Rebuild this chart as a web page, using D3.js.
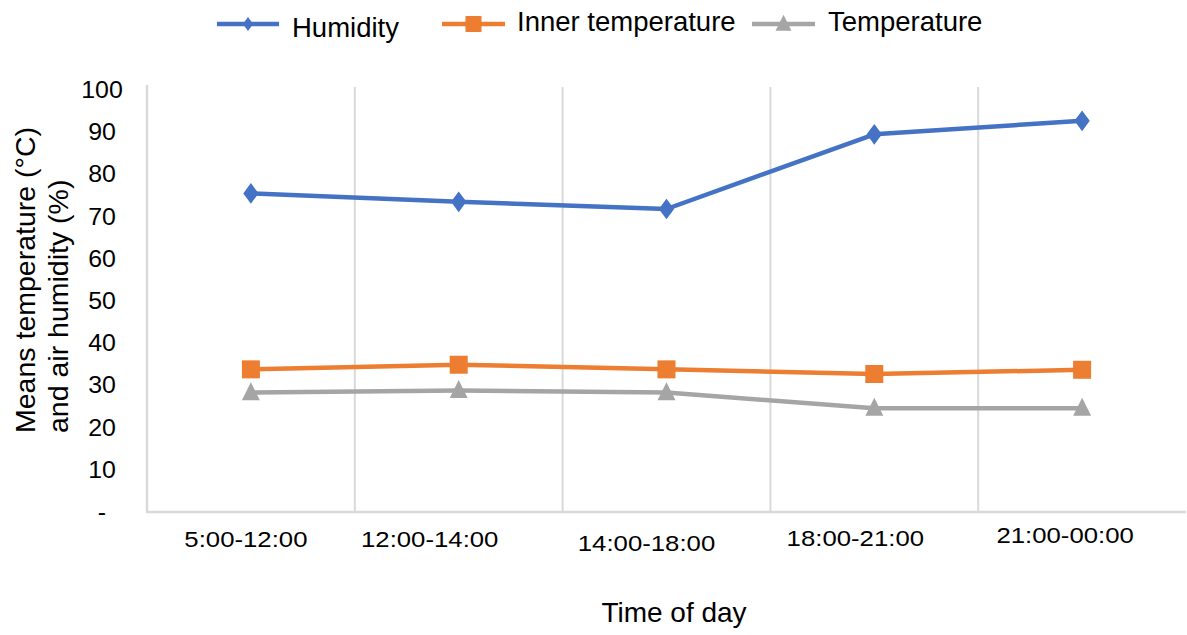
<!DOCTYPE html>
<html>
<head>
<meta charset="utf-8">
<script src="https://cdn.jsdelivr.net/npm/d3@7"></script>
<style>
  html, body { margin: 0; padding: 0; background: #fff; }
  svg { display: block; font-family: "Liberation Sans", Arial, sans-serif; }
</style>
</head>
<body>
<svg id="chart" width="1187" height="635"></svg>
<script>
// Time slots along the x axis
const categories = ["5:00-12:00", "12:00-14:00", "14:00-18:00", "18:00-21:00", "21:00-00:00"];

// Mean values per time slot
const humidity = [75.5, 73.5, 71.8, 89.5, 92.7];
const innerTemperature = [33.8, 34.9, 33.8, 32.7, 33.7];
const temperature = [28.3, 28.8, 28.3, 24.6, 24.6];

// Y axis tick values and their labels
const yTickValues = [0, 10, 20, 30, 40, 50, 60, 70, 80, 90, 100];
const yTickLabels = ["-", "10", "20", "30", "40", "50", "60", "70", "80", "90", "100"];

// Hand placement of the category labels (horizontal shift, baseline below axis)
const xLabelShift = [-5, -29, -20, -19, -17];
const xLabelBaseline = [35, 35, 39, 34, 31];

const series = [
  { name: "Humidity", values: humidity, color: "#4472C4", marker: "diamond" },
  { name: "Inner temperature", values: innerTemperature, color: "#ED7D31", marker: "square" },
  { name: "Temperature", values: temperature, color: "#A5A5A5", marker: "triangle" }
];

const svg = d3.select("#chart");
const plot = { left: 147, right: 1186, top: 87, bottom: 512 };

const x = d3.scaleBand().domain(categories).range([plot.left, plot.right]);
const y = d3.scaleLinear().domain([0, 100]).range([plot.bottom, 90]);

// Vertical gridlines between the time slots
svg.append("g")
  .selectAll("line")
  .data(categories.slice(1))
  .join("line")
  .attr("x1", d => x(d)).attr("x2", d => x(d))
  .attr("y1", plot.top).attr("y2", plot.bottom)
  .attr("stroke", "#d9d9d9").attr("stroke-width", 2);

// Axis lines
svg.append("line")
  .attr("x1", plot.left).attr("x2", plot.left)
  .attr("y1", 85).attr("y2", plot.bottom)
  .attr("stroke", "#d9d9d9").attr("stroke-width", 2.5);
svg.append("line")
  .attr("x1", plot.left - 1).attr("x2", plot.right)
  .attr("y1", plot.bottom).attr("y2", plot.bottom)
  .attr("stroke", "#d9d9d9").attr("stroke-width", 2.5);

// Y axis labels
const yAxis = svg.append("g")
  .attr("transform", "translate(102,0)")
  .call(d3.axisLeft(y).tickValues(yTickValues).tickSize(0).tickPadding(0)
    .tickFormat((d, i) => yTickLabels[i]));
yAxis.select(".domain").remove();
yAxis.selectAll("text")
  .attr("text-anchor", "middle")
  .attr("font-size", 23.5)
  .attr("font-family", "'Liberation Sans', Arial, sans-serif")
  .attr("fill", "#000")
  .attr("transform", "scale(1.06,1)");

// X axis labels (slightly widened glyphs)
const xStretch = 1.12;
const xAxis = svg.append("g")
  .attr("transform", `translate(0,${plot.bottom})`)
  .call(d3.axisBottom(x).tickSize(0));
xAxis.select(".domain").remove();
xAxis.selectAll("text")
  .attr("font-size", 23)
  .attr("font-family", "'Liberation Sans', Arial, sans-serif")
  .attr("fill", "#000")
  .attr("dy", 0)
  .attr("transform", `scale(${xStretch},1)`)
  .attr("x", (d, i) => xLabelShift[i] / xStretch)
  .attr("y", (d, i) => xLabelBaseline[i]);

// Marker shapes
function drawMarker(g, type, cx, cy, color, s) {
  if (type === "diamond") {
    g.append("path")
      .attr("d", `M${cx},${cy - s * 1.15}L${cx + s * 0.85},${cy}L${cx},${cy + s * 1.15}L${cx - s * 0.85},${cy}Z`)
      .attr("fill", color);
  } else if (type === "square") {
    g.append("rect")
      .attr("x", cx - s).attr("y", cy - s)
      .attr("width", 2 * s).attr("height", 2 * s)
      .attr("fill", color);
  } else {
    g.append("path")
      .attr("d", `M${cx},${cy - s * 1.15}L${cx + s},${cy + s * 0.85}L${cx - s},${cy + s * 0.85}Z`)
      .attr("fill", color);
  }
}

const line = d3.line()
  .x((d, i) => x(categories[i]) + x.bandwidth() / 2)
  .y(d => y(d));

series.forEach(s => {
  const g = svg.append("g");
  g.append("path")
    .datum(s.values)
    .attr("d", line)
    .attr("fill", "none")
    .attr("stroke", s.color)
    .attr("stroke-width", 4.5)
    .attr("stroke-linejoin", "round");
  s.values.forEach((v, i) => {
    drawMarker(g, s.marker, x(categories[i]) + x.bandwidth() / 2, y(v), s.color, 9);
  });
});

// Legend
const legendItems = [
  { lineX: [217, 279], textX: 292, baseline: 37 },
  { lineX: [442, 505], textX: 517, baseline: 31 },
  { lineX: [752, 815], textX: 828, baseline: 31 }
];
series.forEach((s, i) => {
  const L = legendItems[i];
  const g = svg.append("g");
  g.append("line")
    .attr("x1", L.lineX[0]).attr("x2", L.lineX[1])
    .attr("y1", 24).attr("y2", 24)
    .attr("stroke", s.color).attr("stroke-width", 4.5);
  drawMarker(g, s.marker, (L.lineX[0] + L.lineX[1]) / 2, 24, s.color, s.marker === "diamond" ? 6 : 8);
  g.append("text")
    .attr("x", L.textX).attr("y", L.baseline)
    .attr("font-size", 27.5)
    .attr("fill", "#000")
    .text(s.name);
});

// Axis titles
svg.append("text")
  .attr("transform", "translate(674,622)")
  .attr("text-anchor", "middle")
  .attr("font-size", 28)
  .attr("fill", "#000")
  .text("Time of day");

const yTitle = svg.append("text")
  .attr("transform", "translate(0,433) rotate(-90)")
  .attr("font-size", 28.5)
  .attr("fill", "#000");
yTitle.append("tspan").attr("x", 0).attr("y", 35).text("Means temperature (°C)");
yTitle.append("tspan").attr("x", 0).attr("y", 68).text("and air humidity (%)");
</script>
</body>
</html>
